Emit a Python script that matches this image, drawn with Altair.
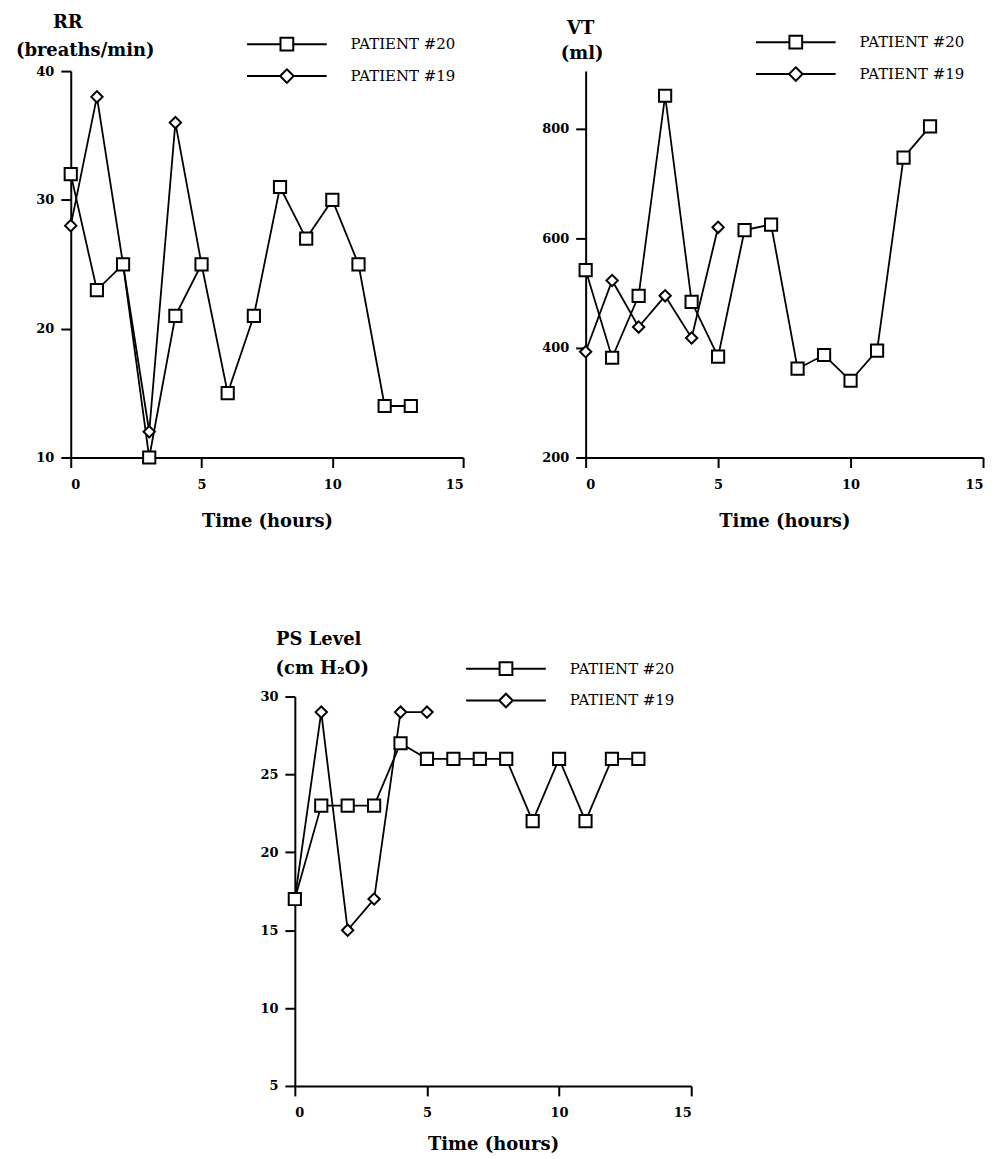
import altair as alt
import pandas as pd

# ---------------- data ----------------
patients = ["PATIENT #20", "PATIENT #19"]
hours_p20 = list(range(14))
hours_p19 = list(range(6))

rr_p20 = [32, 23, 25, 10, 21, 25, 15, 21, 31, 27, 30, 25, 14, 14]
rr_p19 = [28, 38, 25, 12, 36, 25]

vt_p20 = [542, 382, 495, 860, 484, 384, 615, 625, 362, 387, 340, 395, 747, 804]
vt_p19 = [393, 523, 438, 495, 418, 620]

ps_p20 = [17, 23, 23, 23, 27, 26, 26, 26, 26, 22, 26, 22, 26, 26]
ps_p19 = [17, 29, 15, 17, 29, 29]

x_ticks = [0, 5, 10, 15]
rr_ticks = [10, 20, 30, 40]
vt_ticks = [200, 400, 600, 800]
ps_ticks = [5, 10, 15, 20, 25, 30]

SERIF = "DejaVu Serif"
# legend symbols: a line with the marker in its middle
SQ_PATH = "M-5,0L-0.8,0M0.8,0L5,0M-0.8,-0.8L0.8,-0.8L0.8,0.8L-0.8,0.8Z"
DI_PATH = "M-5,0L-0.85,0M0.85,0L5,0M0,-0.85L0.85,0L0,0.85L-0.85,0Z"


def make_df(v20, v19):
    rows = [{"hour": h, "value": v, "patient": patients[0]} for h, v in zip(hours_p20, v20)]
    rows += [{"hour": h, "value": v, "patient": patients[1]} for h, v in zip(hours_p19, v19)]
    return pd.DataFrame(rows)


def panel(df, ydomain, yticks, width, height, top_line, ytitle, tdx, toff,
          ytx, yty, legx, legy, xtp=21):
    x = alt.X("hour:Q",
              scale=alt.Scale(domain=[0, 15], nice=False),
              axis=alt.Axis(values=x_ticks, title="Time (hours)",
                            labelPadding=11, titlePadding=xtp))
    y = alt.Y("value:Q",
              scale=alt.Scale(domain=ydomain, nice=False, zero=False),
              axis=alt.Axis(values=yticks, title=ytitle, titleAngle=0,
                            titleX=ytx, titleY=yty, titleAlign="center",
                            titleBaseline="alphabetic", labelPadding=7))
    base = alt.Chart(df)
    lines = base.mark_line(color="black", strokeWidth=1.8).encode(
        x=x, y=y, detail="patient:N")
    d19 = base.transform_filter(alt.datum.patient == patients[1]).mark_point(
        shape="diamond", filled=True, fill="white", stroke="black",
        strokeWidth=2, size=130, opacity=1).encode(x=x, y=y)
    s20 = base.transform_filter(alt.datum.patient == patients[0]).mark_point(
        shape="square", filled=True, fill="white", stroke="black",
        strokeWidth=2, size=150, opacity=1).encode(x=x, y=y)
    leg = base.transform_filter("false").mark_point(
        filled=False, color="black", strokeWidth=2, size=256, opacity=1).encode(
        shape=alt.Shape("patient:N",
                        scale=alt.Scale(domain=patients, range=[SQ_PATH, DI_PATH]),
                        legend=alt.Legend(title=None, orient="none",
                                          legendX=legx, legendY=legy,
                                          labelFont=SERIF, labelFontSize=15,
                                          labelFontWeight="normal",
                                          labelColor="black", labelOffset=55,
                                          rowPadding=10, symbolSize=256,
                                          symbolStrokeWidth=2,
                                          symbolStrokeColor="black",
                                          padding=0)))
    return alt.layer(lines, d19, s20, leg).properties(
        width=width, height=height,
        title=alt.TitleParams(top_line, anchor="start", align="center",
                              frame="group", dx=tdx, offset=toff,
                              baseline="alphabetic", font=SERIF, fontSize=18,
                              fontWeight="bold", color="black"))


rr = panel(make_df(rr_p20, rr_p19), [10, 40], rr_ticks, 394, 388,
           "RR", "(breaths/min)", -3, -11, 14, -16, 208, -36)
vt = panel(make_df(vt_p20, vt_p19), [200, 905], vt_ticks, 399, 388,
           "VT", "(ml)", -5, -19, -4, -13, 202, -38)
ps = panel(make_df(ps_p20, ps_p19), [5, 30], ps_ticks, 398, 391,
           "PS Level", "(cm H\u2082O)", 24, -3, 27, -23, 203, -37, xtp=16)

spacer = alt.Chart(pd.DataFrame({"v": [0]})).mark_point(opacity=0).encode(
    x=alt.X("v:Q", axis=None), y=alt.Y("v:Q", axis=None)).properties(width=189, height=10)

top = alt.hconcat(rr, vt, spacing=77).resolve_scale(shape="independent").resolve_legend(shape="independent")
bottom = alt.hconcat(spacer, ps, spacing=0).resolve_scale(shape="independent").resolve_legend(shape="independent")

chart = alt.vconcat(top, bottom, spacing=101).resolve_scale(
    shape="independent").resolve_legend(shape="independent").properties(
    padding={"left": 7, "top": 4, "right": 5, "bottom": 0},
    background="white"
).configure_view(stroke=None).configure_axis(
    domainColor="black", domainWidth=2, tickColor="black", tickWidth=2,
    tickSize=10, labelFont=SERIF, labelFontSize=13, labelFontWeight="bold",
    labelColor="black", titleFont=SERIF, titleFontSize=18,
    titleFontWeight="bold", titleColor="black", grid=False)

chart.save("out.html", embed_options={"renderer": "svg", "actions": False})
